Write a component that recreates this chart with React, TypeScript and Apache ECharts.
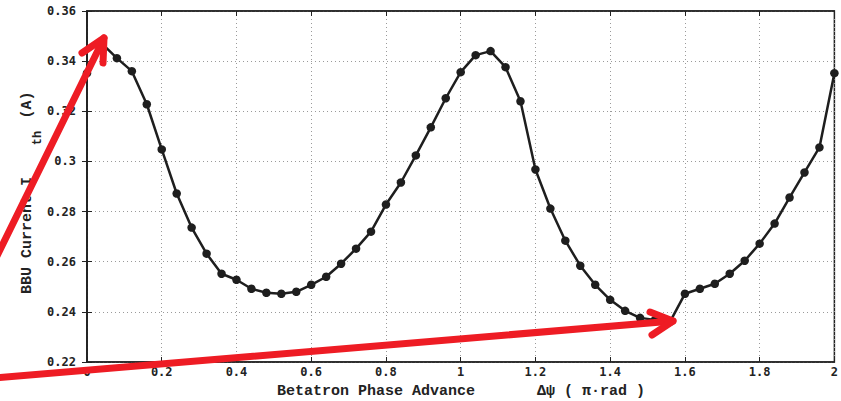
import React, { useEffect, useRef } from "react";
import * as echarts from "echarts";

const xValues = [
  0, 0.04, 0.08, 0.12, 0.16, 0.2, 0.24, 0.28, 0.32, 0.36, 0.4, 0.44, 0.48, 0.52, 0.56,
  0.6, 0.64, 0.68, 0.72, 0.76, 0.8, 0.84, 0.88, 0.92, 0.96, 1.0, 1.04, 1.08, 1.12, 1.16,
  1.2, 1.24, 1.28, 1.32, 1.36, 1.4, 1.44, 1.48, 1.52, 1.56, 1.6, 1.64, 1.68, 1.72, 1.76,
  1.8, 1.84, 1.88, 1.92, 1.96, 2.0,
];
const bbuCurrent = [
  0.3352, 0.347, 0.3412, 0.336, 0.3228, 0.3048, 0.2872, 0.2736, 0.2632, 0.2552, 0.2528,
  0.2492, 0.2476, 0.2472, 0.248, 0.2508, 0.254, 0.2592, 0.2652, 0.272, 0.2828, 0.2916,
  0.3024, 0.3136, 0.3252, 0.3356, 0.3424, 0.344, 0.3376, 0.324, 0.2968, 0.2812, 0.2684,
  0.2584, 0.2508, 0.2448, 0.2404, 0.2376, 0.2368, 0.236, 0.2472, 0.2492, 0.2512, 0.2552,
  0.2604, 0.2672, 0.2752, 0.2856, 0.2956, 0.3056, 0.3352,
];
const xAxisTitle = "Betatron Phase Advance";
const xAxisUnit = "Δψ ( π·rad )";
const yAxisTitle = "BBU Current I";
const yAxisSub = "th";
const yAxisUnit = "(A)";

const RED = "#ee1c24";
const tickFont = "'DejaVu Sans Mono', monospace";
const titleFont = "'Liberation Mono', 'DejaVu Sans Mono', monospace";

export default function App() {
  const ref = useRef<HTMLDivElement>(null);
  useEffect(() => {
    if (!ref.current) return;
    const chart = echarts.init(ref.current, undefined, { renderer: "svg" });
    const data = xValues.map((x, i) => [x, bbuCurrent[i]]);
    const gridLine = { show: true, lineStyle: { color: "#9a9a9a", type: [1, 3] as any, width: 1 } };
    chart.setOption({
      animation: false,
      backgroundColor: "#ffffff",
      grid: { left: 87, right: 3, top: 11, bottom: 39, show: true, borderColor: "#222", borderWidth: 1.5, backgroundColor: "transparent" },
      xAxis: [
        {
          type: "value", min: 0, max: 2, interval: 0.2,
          axisLine: { show: true, lineStyle: { color: "#222", width: 1.5 } },
          axisTick: { show: true, inside: true, length: 5, lineStyle: { color: "#222" } },
          axisLabel: { color: "#222", fontFamily: tickFont, fontWeight: "bold", fontSize: 12, margin: 4, lineHeight: 12 },
          splitLine: gridLine,
        },
        {
          type: "value", min: 0, max: 2, interval: 0.2, position: "top",
          axisLine: { show: true, lineStyle: { color: "#222", width: 1.5 } },
          axisTick: { show: true, inside: true, length: 5, lineStyle: { color: "#222" } },
          axisLabel: { show: false }, splitLine: { show: false },
        },
      ],
      yAxis: [
        {
          type: "value", min: 0.22, max: 0.36, interval: 0.02,
          axisLine: { show: true, lineStyle: { color: "#222", width: 1.5 } },
          axisTick: { show: true, inside: true, length: 5, lineStyle: { color: "#222" } },
          axisLabel: { color: "#222", fontFamily: tickFont, fontWeight: "bold", fontSize: 12, margin: 11 },
          splitLine: gridLine,
        },
        {
          type: "value", min: 0.22, max: 0.36, interval: 0.02, position: "right",
          axisLine: { show: true, lineStyle: { color: "#222", width: 1.5 } },
          axisTick: { show: true, inside: true, length: 5, lineStyle: { color: "#222" } },
          axisLabel: { show: false }, splitLine: { show: false },
        },
      ],
      series: [
        {
          type: "line",
          data,
          clip: false,
          symbol: "circle",
          symbolSize: 8.5,
          itemStyle: { color: "#1e1e1e" },
          lineStyle: { color: "#1e1e1e", width: 2.5 },
          z: 3,
        },
      ],
      graphic: [
        { type: "text", x: 376, y: 391, style: { text: xAxisTitle, font: `bold 15px ${titleFont}`, fill: "#222", textAlign: "center", textVerticalAlign: "middle" } },
        { type: "text", x: 591, y: 391, style: { text: xAxisUnit, font: `bold 15px ${titleFont}`, fill: "#222", textAlign: "center", textVerticalAlign: "middle" } },
        { type: "text", x: 27, y: 294, rotation: Math.PI / 2, style: { text: yAxisTitle, font: `bold 15px ${titleFont}`, fill: "#222", textAlign: "left", textVerticalAlign: "middle" } },
        { type: "text", x: 38, y: 138, rotation: Math.PI / 2, style: { text: yAxisSub, font: `bold 12px ${titleFont}`, fill: "#222", textAlign: "center", textVerticalAlign: "middle" } },
        { type: "text", x: 27, y: 105, rotation: Math.PI / 2, style: { text: yAxisUnit, font: `bold 15px ${titleFont}`, fill: "#222", textAlign: "center", textVerticalAlign: "middle" } },
        { type: "polyline", z: 100, shape: { points: [[-5, 260], [104, 38]] }, style: { stroke: RED, lineWidth: 7, lineCap: "round", fill: "none" } },
        { type: "polyline", z: 100, shape: { points: [[82, 53], [104, 38], [103, 63]] }, style: { stroke: RED, lineWidth: 7, lineCap: "round", lineJoin: "round", fill: "none" } },
        { type: "polyline", z: 100, shape: { points: [[-5, 378], [673, 321]] }, style: { stroke: RED, lineWidth: 7, lineCap: "round", fill: "none" } },
        { type: "polyline", z: 100, shape: { points: [[650, 312], [673, 321], [652, 335]] }, style: { stroke: RED, lineWidth: 7, lineCap: "round", lineJoin: "round", fill: "none" } },
      ],
    });
    return () => chart.dispose();
  }, []);
  return <div ref={ref} style={{ position: "fixed", left: 0, top: 0, width: 841, height: 401 }} />;
}
